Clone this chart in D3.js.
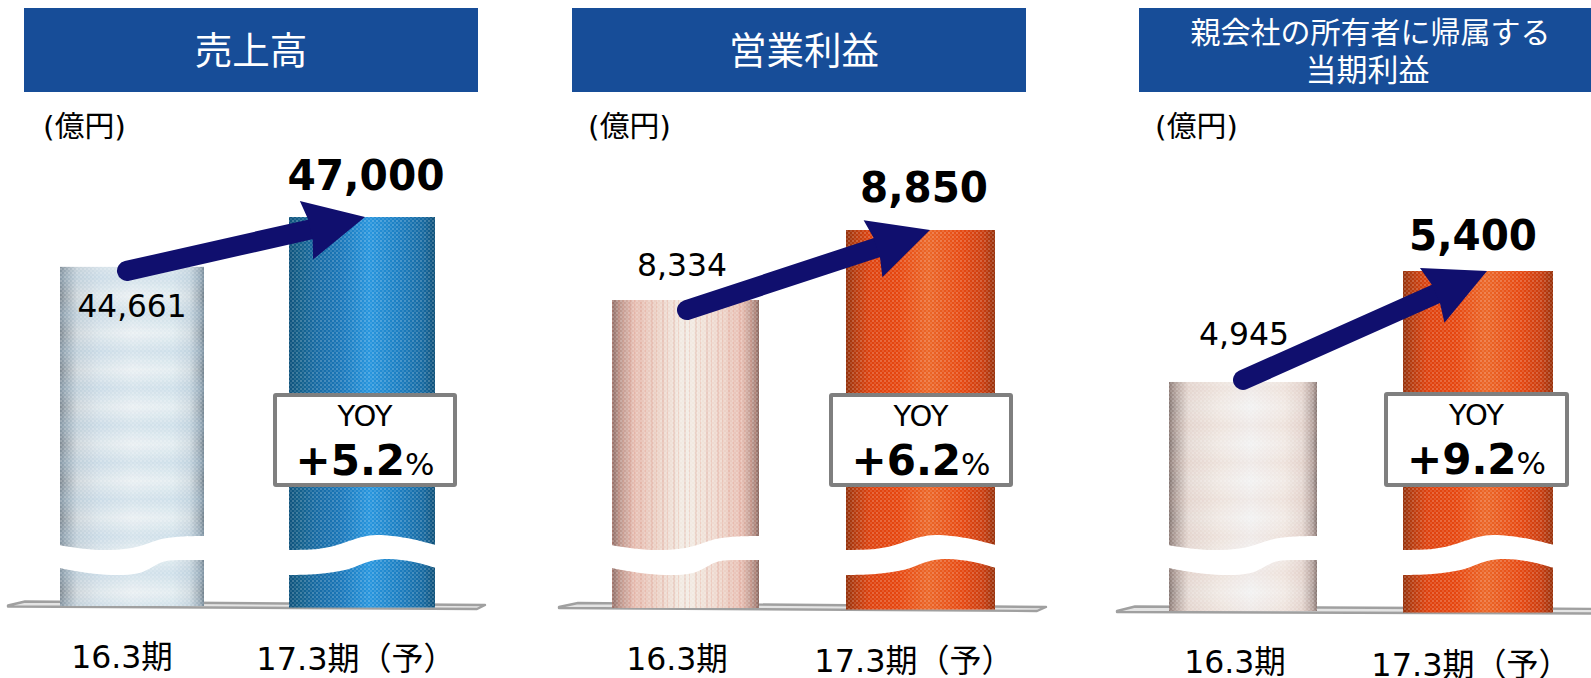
<!DOCTYPE html>
<html lang="ja">
<head>
<meta charset="utf-8">
<script src="https://cdn.jsdelivr.net/npm/d3@7"></script>
<style>
html,body{margin:0;padding:0;background:#fff;overflow:hidden}
svg{display:block}
text{font-family:"DejaVu Sans","Noto Sans CJK JP",sans-serif;fill:#000}
.ttl{font-family:"Noto Sans CJK JP",sans-serif;fill:#fff;text-anchor:middle}
</style>
</head>
<body>
<svg id="c" width="1591" height="678"></svg>
<script>
// ---- data ----
const categories = ["16.3期", "17.3期（予）"];
const unitLabel = "(億円)";
const salesValues = [44661, 47000];
const profitValues = [8334, 8850];
const netValues = [4945, 5400];
const yoyLabels = ["+5.2", "+6.2", "+9.2"];
const titleLines = [["売上高"], ["営業利益"], ["親会社の所有者に帰属する", "当期利益"]];

// ---- layout ----
const panels = [
  { values: salesValues, base: 28757, top1: 217, baseY: 606, fs: [37.5],
    head: [24, 478], unitX: 43, centers: [132, 362], widths: [144, 146],
    titleX: [251], titleY: [64],
    fill: ["paleBlue", "blue"], bands: "bandBlue",
    floor: [[8,605.5],[25,601.5],[485,605],[477,609],[8,606.5]],
    box: [275, 455, 395, 485], boxC: 365,
    arrowFrom: 4, labelX: [132, 366], labelY: [317, 190],
    catX: [122, 356], catY: [668, 670] },
  { values: profitValues, base: 6064, top1: 230, baseY: 608, fs: [37.5],
    head: [572, 1026], unitX: 588, centers: [685.5, 920.5], widths: [147, 149],
    titleX: [804], titleY: [64],
    fill: ["palePeach", "orange"], bands: "stripePeach",
    floor: [[559,607],[578,603],[1046,607],[1037,611],[559,608]],
    box: [831, 1011, 395, 485], boxC: 921,
    arrowFrom: 10, labelX: [682, 924], labelY: [276, 202],
    catX: [677, 914], catY: [670, 672] },
  { values: netValues, base: 4006, top1: 271, baseY: 611, fs: [30, 31],
    head: [1139, 1591], unitX: 1155, centers: [1243, 1478], widths: [148, 150],
    titleX: [1370.5, 1367.5], titleY: [43, 81],
    fill: ["paleRose", "orange"], bands: "bandRose",
    floor: [[1117,611],[1135,606.5],[1610,609],[1600,613.5],[1117,612]],
    box: [1386, 1567, 394, 485], boxC: 1476.5,
    arrowFrom: -2, labelX: [1244, 1473], labelY: [345, 250],
    catX: [1235, 1471], catY: [673, 676] }
];

// wavy axis-break shapes: [fraction of bar width, y]
const breakShapes = [
  { upper: [[0,545],[.15,548.5],[.3,550],[.5,548],[.72,538.5],[.85,536.5],[1,536]],
    lower: [[0,568],[.2,573],[.36,575],[.55,573],[.72,561.5],[.85,560],[1,560]] },
  { upper: [[0,550],[.2,549],[.32,545.5],[.5,537],[.6,535],[.8,538],[1,545]],
    lower: [[0,575],[.2,574],[.4,569.5],[.56,561],[.68,559],[.85,562],[1,568]] }
];

const gradients = {
  paleBlue: [[0,"#848f98"],[.04,"#a5b0b8"],[.12,"#d9e1e6"],[.28,"#eaf3f8"],[.5,"#f6fcff"],[.78,"#eff9fd"],[.9,"#dbe6ec"],[.97,"#a4b2bc"],[1,"#748490"]],
  blue: [[0,"#0f5683"],[.06,"#14638f"],[.18,"#1870ab"],[.35,"#1b7cc2"],[.55,"#2a9eea"],[.75,"#1d85cc"],[.92,"#176ea8"],[1,"#10557f"]],
  palePeach: [[0,"#96716a"],[.05,"#c29b91"],[.15,"#f2c8bc"],[.3,"#f8dcd0"],[.5,"#fffaf2"],[.72,"#fbe3d8"],[.88,"#f4cabe"],[.96,"#c09a90"],[1,"#8f6a62"]],
  paleRose: [[0,"#8a7b77"],[.05,"#bcaea9"],[.13,"#f1e6e0"],[.34,"#fdf6f1"],[.55,"#ffffff"],[.78,"#fef6f1"],[.9,"#f0e3dd"],[.97,"#bbaba7"],[1,"#877773"]],
  orange: [[0,"#9c340c"],[.06,"#c03e10"],[.16,"#ea4610"],[.35,"#f24a10"],[.55,"#f86c2a"],[.78,"#f24c12"],[.92,"#d44010"],[1,"#a0340c"]]
};

// ---- draw ----
const svg = d3.select("#c");
const defs = svg.append("defs");

Object.entries(gradients).forEach(([id, stops]) => {
  const g = defs.append("linearGradient").attr("id", id)
    .attr("x1", 0).attr("x2", 1).attr("y1", 0).attr("y2", 0);
  stops.forEach(s => g.append("stop").attr("offset", s[0]).attr("stop-color", s[1]));
});

// weave texture
const weave = defs.append("pattern").attr("id", "weave").attr("patternUnits", "userSpaceOnUse")
  .attr("width", 4).attr("height", 4);
weave.append("rect").attr("width", 4).attr("height", 4).attr("fill", "#000").attr("opacity", .05);
weave.append("rect").attr("x", 0).attr("y", 0).attr("width", 2).attr("height", 2).attr("fill", "#fff").attr("opacity", .2);
weave.append("rect").attr("x", 2).attr("y", 2).attr("width", 2).attr("height", 2).attr("fill", "#fff").attr("opacity", .12);

function bandPattern(id, color, period, op) {
  const g = defs.append("linearGradient").attr("id", id + "G").attr("x1", 0).attr("x2", 0).attr("y1", 0).attr("y2", 1);
  [[0, 0], [.5, op], [1, 0]].forEach(s =>
    g.append("stop").attr("offset", s[0]).attr("stop-color", color).attr("stop-opacity", s[1]));
  const p = defs.append("pattern").attr("id", id).attr("patternUnits", "userSpaceOnUse")
    .attr("width", 10).attr("height", period);
  p.append("rect").attr("width", 10).attr("height", period).attr("fill", `url(#${id}G)`);
}
bandPattern("bandBlue", "#a6cbe6", 37, .3);
bandPattern("bandRose", "#e6b8a8", 37, .14);
const stripes = defs.append("pattern").attr("id", "stripePeach").attr("patternUnits", "userSpaceOnUse")
  .attr("width", 11).attr("height", 4);
stripes.append("rect").attr("x", 2).attr("width", 2).attr("height", 4).attr("fill", "#e08a76").attr("opacity", .22);
stripes.append("rect").attr("x", 7).attr("width", 1).attr("height", 4).attr("fill", "#ee9a88").attr("opacity", .25);

const ptLine = d3.line().curve(d3.curveCatmullRom.alpha(.5));
const arrowHeadLen = 60, arrowHalf = 30, shaftW = 20, notch = 4;

panels.forEach((p, pi) => {
  const g = svg.append("g");
  const x = d3.scalePoint().domain(categories).range(p.centers);
  const y = d3.scaleLinear().domain([p.base, p.values[1]]).range([p.baseY, p.top1]);

  // heading
  g.append("rect").attr("x", p.head[0]).attr("y", 8).attr("width", p.head[1] - p.head[0]).attr("height", 84).attr("fill", "#174d98");
  g.selectAll(".ttl").data(titleLines[pi]).join("text").attr("class", "ttl")
    .attr("x", (d, i) => p.titleX[i])
    .attr("y", (d, i) => p.titleY[i])
    .attr("font-size", (d, i) => p.fs[i]).text(d => d);

  g.append("text").attr("x", p.unitX).attr("y", 137).attr("font-size", 29)
    .attr("textLength", 83).attr("lengthAdjust", "spacingAndGlyphs").text(unitLabel);

  // floor
  g.append("path").attr("d", d3.line()(p.floor) + "Z")
    .attr("fill", "#e4e4e4").attr("stroke", "#a0a0a0").attr("stroke-width", 2.4).attr("stroke-linejoin", "round");

  // bars
  categories.forEach((c, i) => {
    const w = p.widths[i], x0 = x(c) - w / 2, top = y(p.values[i]), h = p.baseY - top + (i ? 1.5 : 0);
    const rect = () => g.append("rect").attr("x", x0).attr("y", top).attr("width", w).attr("height", h);
    rect().attr("fill", `url(#${p.fill[i]})`);
    if (i === 0) rect().attr("fill", `url(#${p.bands})`);
    rect().attr("fill", "url(#weave)");

    // axis-break gap
    const sh = breakShapes[i];
    const upper = sh.upper.map(d => [x0 - 1 + d[0] * (w + 2), d[1]]);
    const lower = sh.lower.map(d => [x0 - 1 + d[0] * (w + 2), d[1]]).reverse();
    const path = ptLine(upper) + "L" + ptLine(lower).slice(1) + "Z";
    g.append("path").attr("d", path).attr("fill", "#fff");
  });

  // growth arrow: from the first bar's top to the second bar's top
  const sx = [127, 687, 1243][pi], tx = [365, 930, 1487][pi];
  const s = [sx, y(p.values[0]) + p.arrowFrom], t = [tx, y(p.values[1])];
  const dx = t[0] - s[0], dy = t[1] - s[1], len = Math.hypot(dx, dy);
  const ux = dx / len, uy = dy / len, nx = -uy, ny = ux;
  const b = [t[0] - ux * arrowHeadLen, t[1] - uy * arrowHeadLen];
  g.append("line").attr("x1", s[0]).attr("y1", s[1]).attr("x2", b[0] + ux * (notch + 2)).attr("y2", b[1] + uy * (notch + 2))
    .attr("stroke", "#100f6e").attr("stroke-width", shaftW).attr("stroke-linecap", "round");
  g.append("path").attr("d", d3.line()([
      t,
      [b[0] + nx * arrowHalf, b[1] + ny * arrowHalf],
      [b[0] + ux * notch + nx * shaftW / 2, b[1] + uy * notch + ny * shaftW / 2],
      [b[0] + ux * notch - nx * shaftW / 2, b[1] + uy * notch - ny * shaftW / 2],
      [b[0] - nx * arrowHalf, b[1] - ny * arrowHalf]
    ]) + "Z").attr("fill", "#100f6e");

  // value labels
  const fmt = d3.format(",");
  p.values.forEach((v, i) => {
    g.append("text").attr("x", p.labelX[i]).attr("y", p.labelY[i]).attr("text-anchor", "middle")
      .attr("font-size", i ? 42 : 32).attr("font-weight", i ? 700 : 400)
      .attr("textLength", fmt(v).length === 6 ? (i ? 157 : 109) : (i ? 128 : 90))
      .attr("lengthAdjust", "spacingAndGlyphs").text(fmt(v));
  });

  // YOY box
  const [bx0, bx1, by0, by1] = p.box;
  g.append("rect").attr("x", bx0).attr("y", by0).attr("width", bx1 - bx0).attr("height", by1 - by0)
    .attr("fill", "#fff").attr("stroke", "#7f7f7f").attr("stroke-width", 4).attr("rx", 1);
  g.append("text").attr("x", p.boxC).attr("y", by0 + 31).attr("text-anchor", "middle").attr("font-size", 29).text("YOY");
  const t2 = g.append("text").attr("x", p.boxC).attr("y", by0 + 80).attr("text-anchor", "middle");
  t2.append("tspan").attr("font-size", 42).attr("font-weight", 700).text(yoyLabels[pi]);
  t2.append("tspan").attr("font-size", 31).text("%");

  // category labels
  categories.forEach((c, i) => {
    g.append("text").attr("x", p.catX[i]).attr("y", p.catY[i]).attr("text-anchor", "middle").attr("font-size", i ? 32 : 31.5).text(c);
  });
});
</script>
</body>
</html>
